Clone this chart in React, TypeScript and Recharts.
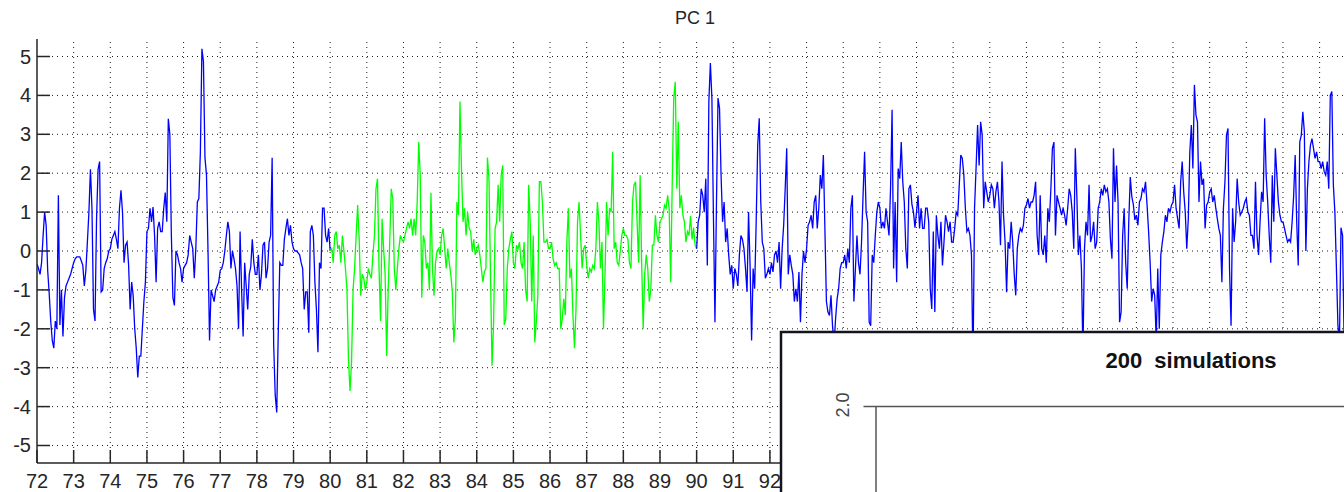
import React from 'react';
import { LineChart, Line, XAxis, YAxis, ReferenceLine } from 'recharts';

// half-monthly PC 1 scores (one row per year)
const perYear = 24;
const startBlueEarly = 72;
const startGreen = 80;
const startBlueLate = 90;

const blueEarly = [
  -0.33, -0.45, -0.6, -0.3, 0.4, 1.0, 0.66, -0.5, -1.1, -1.8, -2.3, -2.5, -1.8, -2.0, 1.43, -1.9, -1.0, -2.2, -1.2, -0.9, -0.8, -0.7, -0.6, -0.45,
  -0.3, -0.2, -0.15, -0.15, -0.15, -0.25, -0.37, -0.9, -0.5, 0.23, 1.0, 2.1, 1.1, -1.5, -1.8, 0.83, 2.1, 2.3, -1.05, -1.0, -0.45, -0.3, -0.2, 0.0,
  0.06, 0.3, 0.4, 0.5, 0.3, 0.06, 1.1, 1.56, 1.0, -0.3, 0.15, 0.23, -0.37, -1.5, -0.8, -1.15, -2.0, -2.5, -3.25, -2.7, -2.7, -2.0, -1.3, -0.8,
  0.5, 0.58, 1.1, 0.75, 1.13, 0.4, -0.8, 0.58, 0.75, 0.5, 0.5, 1.1, 1.5, 0.75, 3.4, 3.0, 0.4, -1.2, -1.4, 0.0, -0.1, -0.3, -0.45, -0.8,
  -0.45, -0.37, -0.3, -0.1, 0.4, 0.23, 0.06, -0.7, 0.06, 1.26, 1.35, 2.55, 5.2, 4.87, 2.4, 1.95, 0.0, -2.3, -1.0, -1.15, -1.3, -1.0, -0.9, -0.8,
  -0.5, -0.45, -0.3, 0.0, 0.4, 0.75, 0.5, -0.45, 0.0, -0.2, -0.45, -0.9, -2.0, 0.5, -1.0, -2.2, -0.3, -0.9, -1.5, -0.6, -0.4, 0.3, -0.3, -0.6,
  -0.6, -0.1, -1.0, -0.6, 0.15, 0.23, -0.7, -0.45, 0.23, 0.4, 2.4, -2.4, -3.7, -4.15, -2.1, -0.3, -0.37, -0.37, 0.3, 0.58, 0.83, 0.4, 0.66, 0.23,
  0.06, 0.0, 0.0, -0.05, -0.1, -0.3, -0.45, -1.5, -1.05, -1.05, -2.1, 0.5, 0.66, 0.4, -0.8, -1.5, -2.6, -0.3, -0.45, 1.1, 1.1, 0.4, 0.23, 0.58,
];

const greenMid = [
  0.0, 0.06, -0.3, 0.4, 0.5, 0.06, 0.15, -0.3, 0.4, 0.0, -0.45, -1.0, -2.8, -3.6, -2.85, -1.0, -0.45, 0.4, 1.18, 0.3, -1.15, -0.6, -0.7, -1.0,
  -0.8, -0.45, -0.6, -0.7, -0.1, 0.4, 1.6, 1.86, -0.45, -1.8, 0.83, 0.06, -0.6, -2.7, -1.0, 0.23, 1.6, 1.35, -0.45, -1.0, -0.45, 0.06, 0.4, 0.3,
  0.23, 0.4, 0.58, 0.75, 0.58, 0.83, 0.4, 0.83, 0.4, 1.26, 2.8, 1.95, -1.2, 0.4, 0.23, -0.45, -0.3, -1.0, 1.5, -0.45, -1.15, -0.3, 0.0, 0.06,
  -0.1, 0.4, 0.58, 0.06, -0.45, 0.06, -0.3, -0.6, -1.05, -2.35, -1.75, 1.26, 0.92, 3.84, 2.1, 0.75, 1.1, 0.4, 1.0, 0.6, 0.5, 0.0, 0.3, -0.1,
  0.06, 0.15, -0.1, -0.45, -0.8, -0.54, -0.45, 2.4, 1.86, -0.6, -2.95, -1.9, 0.58, 0.75, 1.7, 0.75, 1.95, 2.2, -1.9, -1.75, -0.45, 0.06, 0.3, 0.5,
  -0.3, -0.45, 0.15, 0.06, 0.23, -0.3, -0.45, 0.23, -1.0, -1.3, 1.7, 0.75, -1.3, 0.4, -2.35, -1.83, -1.15, 1.78, 1.78, 1.26, 0.23, 0.23, 0.3, 0.06,
  0.06, 0.23, -0.2, -0.37, -0.3, -0.45, -0.45, -2.0, -1.75, -1.23, -1.65, 0.23, 1.1, -0.7, -0.45, -1.65, -2.5, -1.5, 0.75, 1.26, 0.4, -0.45, 0.06, 0.15,
  -0.37, -0.7, -0.45, -0.54, -0.37, -0.45, 0.06, 1.26, 0.75, -0.45, 0.23, -2.0, -0.6, 1.26, 0.4, 1.1, 1.0, 2.55, 0.06, 0.23, -0.3, -0.37, 0.0, 0.4,
  0.58, 0.4, 0.4, 0.3, -0.3, -0.45, 1.26, 1.7, 1.78, 0.75, -0.3, 1.95, -0.3, -2.0, -0.6, -0.1, -0.45, -1.3, -1.0, 0.15, 0.15, 0.92, 0.4, 0.23,
  0.75, 0.83, 0.92, 1.18, 1.1, 1.43, 1.1, -0.8, 1.7, 3.93, 4.35, 1.6, 3.32, 1.1, 1.43, 0.92, 0.75, 0.23, 0.5, 0.4, 0.9, 0.3, 0.6, 0.15,
];

const blueLate = [
  0.06, 0.75, 0.92, 1.6, 1.43, 1.0, 1.86, -0.37, 3.84, 4.83, 3.93, 0.92, -1.83, 1.26, 3.93, 3.67, 1.95, 0.75, 1.26, 0.23, 0.58, -0.1, -0.6, -0.37,
  -0.97, -0.45, -0.6, -0.9, -0.1, 0.4, 0.3, 0.06, -0.45, -1.05, 1.0, -0.37, -2.3, -0.45, -0.97, 0.75, 2.72, 3.41, 1.26, 0.23, 0.06, -0.7, -0.6, -0.45,
  -0.6, -0.3, -0.54, -0.1, 0.0, -0.3, 0.23, -0.97, 0.06, 0.66, 1.6, 2.64, -0.6, -0.1, -0.37, -0.6, -1.3, -0.97, -1.3, -0.54, -1.83, -0.6, 0.0, -0.3,
  0.06, 0.66, 0.75, 0.92, 0.58, 1.26, 1.43, 0.58, 1.1, 1.95, 1.6, 2.47, 0.58, -1.3, -1.57, -1.66, -1.14, -1.92, -2.4, -1.74, -1.23, -0.97, -0.45, -0.3,
  -0.3, -0.1, -0.45, 0.06, -0.3, 1.1, 1.43, -1.3, -0.45, 0.4, -0.3, -0.6, 0.23, 1.43, 2.55, 1.0, 0.75, -1.83, -1.92, -0.1, -0.3, 0.4, 1.0, 1.26,
  1.1, 0.58, 0.75, 0.58, 1.1, 0.75, 0.4, 1.6, 3.63, -0.45, 1.26, -0.8, 2.12, 1.86, 2.8, 1.78, 1.26, 0.06, -0.45, 1.6, 1.7, 1.2, 1.0, 0.6,
  1.0, 1.43, 0.58, 1.1, 0.58, 0.58, 1.1, 1.1, 0.75, -0.97, -1.49, 0.5, -1.57, 0.92, 0.4, 0.06, 0.75, -0.37, 0.23, 0.92, 0.75, 0.5, 0.75, 0.23,
  0.23, 0.58, 1.0, 0.92, 1.7, 2.47, 2.38, 1.95, 1.1, 0.5, 0.58, 0.4, -0.1, -3.0, 1.1, 2.12, 3.24, 2.2, 3.32, 2.98, 1.1, 1.78, 1.52, 1.26,
  1.43, 1.7, 1.6, 1.1, 1.52, 1.78, 1.26, 0.15, 2.3, 0.92, 0.23, -1.06, 0.23, 0.06, 0.75, 0.23, -0.6, -1.14, 0.06, 0.4, 0.58, 0.5, 0.66, 1.1,
  1.18, 1.35, 1.1, 1.26, 1.26, 1.43, 1.78, 0.4, -0.1, 1.43, 0.06, -0.1, 0.4, -0.3, 1.1, 0.75, 1.6, 2.64, 2.8, 0.4, 1.43, 1.26, 1.1, 0.92,
  1.1, 0.92, 0.66, 1.1, 1.6, 1.43, 1.0, 0.06, 2.64, 1.43, -0.1, 0.4, -0.45, -2.6, 0.06, 0.75, 0.4, 1.7, 0.23, 0.4, 0.75, 0.06, 0.23, 1.1,
  1.26, 1.6, 1.43, 1.7, 1.52, 1.6, 1.26, 0.3, -0.2, 2.64, 1.26, 2.2, 1.26, -1.83, -1.57, 0.4, 1.1, -0.3, -0.97, 0.75, 1.9, 1.4, 1.2, 0.8,
  0.92, 0.66, 1.26, 1.35, 1.6, 1.52, 1.78, 1.18, 0.5, -0.3, -1.3, -0.97, -1.14, -2.3, -0.45, -2.0, -0.1, 0.23, 0.5, 0.92, 0.75, 1.1, 1.0, 1.18,
  1.26, 1.7, 1.1, 0.83, 0.58, 1.78, 2.3, 1.52, 1.0, 0.06, 0.83, 2.55, 3.24, 2.12, 4.27, 3.5, 3.32, 1.26, 2.3, 1.7, 1.86, 0.58, 1.18, 1.26,
  1.52, 1.6, 1.26, 1.43, 1.1, 0.83, 0.58, 0.4, -0.8, 1.1, 1.78, 2.98, 3.15, -0.45, -1.92, 1.1, 0.23, 0.75, 1.86, 1.26, 0.92, 1.0, 1.1, 1.26,
  1.35, 1.0, 0.92, 0.4, 0.4, 0.06, 1.78, 0.4, -0.1, 0.75, 1.52, 1.26, 3.41, 1.95, 1.26, 0.4, -0.3, 1.95, 0.75, 2.64, 1.95, 1.26, 0.92, 0.75,
  0.75, 0.58, 0.4, 0.23, 0.3, 0.23, 0.75, 1.43, 2.47, 0.75, -0.37, 2.8, 2.98, 3.58, 3.07, 0.0, 1.6, 2.3, 2.72, 2.89, 2.64, 2.38, 2.55, 2.3,
  2.3, 2.12, 2.3, 2.04, 1.95, 2.3, 1.6, 4.0, 4.1, 1.7, 1.0, -0.45, -1.92, -2.3, 0.6, 0.4, -2.2,
];

const xTicks = [
  72, 73, 74, 75, 76, 77, 78, 79, 80, 81, 82, 83, 84, 85, 86, 87, 88, 89,
  90, 91, 92, 93, 94, 95, 96, 97, 98, 99, 100, 101, 102, 103, 104, 105, 106, 107,
];
const yTicks = [-5, -4, -3, -2, -1, 0, 1, 2, 3, 4, 5];

const chartTitle = 'PC 1';
const insetTitle = '200  simulations';
const insetTick = '2.0';

// each segment gets the next segment's first value so the colours join up
const toRows = (values: number[], start: number, next?: number) => {
  const rows = values.map((v, i) => ({ t: start + i / perYear, v }));
  if (next !== undefined) rows.push({ t: start + values.length / perYear, v: next });
  return rows;
};

const blueEarlyRows = toRows(blueEarly, startBlueEarly, greenMid[0]);
const greenRows = toRows(greenMid, startGreen, blueLate[0]);
const blueLateRows = toRows(blueLate, startBlueLate);

const AXIS = '#262626';
const GRID = '#1a1a1a';
const FONT = '"Liberation Sans", Arial, Helvetica, sans-serif';
const TICK_LEN = 13;

const BottomTick = ({ x, y, payload }: any) => (
  <g>
    <line x1={x} x2={x} y1={y} y2={y - TICK_LEN} stroke={AXIS} strokeWidth={1.5} />
    <text x={x} y={y + 25} textAnchor="middle" fontSize={20} fill={AXIS} fontFamily={FONT}>
      {payload.value}
    </text>
  </g>
);

const TopTick = ({ x, y }: any) => (
  <line x1={x} x2={x} y1={y} y2={y + TICK_LEN} stroke={AXIS} strokeWidth={1.5} />
);

const LeftTick = ({ x, y, payload }: any) => (
  <g>
    <line x1={x} x2={x + TICK_LEN} y1={y} y2={y} stroke={AXIS} strokeWidth={1.5} />
    <text x={x - 6} y={y + 7} textAnchor="end" fontSize={20} fill={AXIS} fontFamily={FONT}>
      {payload.value}
    </text>
  </g>
);

const App: React.FC = () => {
  return (
    <div
      style={{
        position: 'fixed',
        left: 0,
        top: 0,
        width: 1344,
        height: 492,
        overflow: 'hidden',
        background: '#fff',
      }}
    >
      <LineChart width={1346} height={492} margin={{ top: 39, right: 0, bottom: 0, left: 0 }}>
        <XAxis
          dataKey="t"
          type="number"
          domain={[72, 107.72]}
          ticks={xTicks}
          allowDataOverflow
          height={29}
          axisLine={{ stroke: AXIS, strokeWidth: 1.5 }}
          tickLine={false}
          tickSize={0}
          tickMargin={0}
          tick={<BottomTick />}
        />
        <XAxis
          xAxisId="top"
          orientation="top"
          dataKey="t"
          type="number"
          domain={[72, 107.72]}
          ticks={xTicks}
          allowDataOverflow
          height={0}
          axisLine={{ stroke: AXIS, strokeWidth: 1.5 }}
          tickLine={false}
          tickSize={0}
          tickMargin={0}
          tick={<TopTick />}
        />
        <YAxis
          type="number"
          domain={[-5.45, 5.45]}
          ticks={yTicks}
          allowDataOverflow
          width={37}
          axisLine={{ stroke: AXIS, strokeWidth: 1.5 }}
          tickLine={false}
          tickSize={0}
          tickMargin={0}
          tick={<LeftTick />}
        />
        {/* dotted MATLAB-style grid */}
        {xTicks.slice(1).map((t) => (
          <ReferenceLine key={`gx${t}`} x={t} stroke={GRID} strokeDasharray="1 4" strokeWidth={1} />
        ))}
        {yTicks.map((v) => (
          <ReferenceLine key={`gy${v}`} y={v} stroke={GRID} strokeDasharray="1 4" strokeWidth={1} />
        ))}
        <Line
          data={blueEarlyRows}
          dataKey="v"
          type="linear"
          stroke="#0000ff"
          strokeWidth={1.3}
          dot={false}
          isAnimationActive={false}
        />
        <Line
          data={greenRows}
          dataKey="v"
          type="linear"
          stroke="#00ff00"
          strokeWidth={1.3}
          dot={false}
          isAnimationActive={false}
        />
        <Line
          data={blueLateRows}
          dataKey="v"
          type="linear"
          stroke="#0000ff"
          strokeWidth={1.3}
          dot={false}
          isAnimationActive={false}
        />
      </LineChart>

      {/* title and the pasted-over inset panel */}
      <svg
        width={1344}
        height={492}
        style={{ position: 'absolute', left: 0, top: 0, pointerEvents: 'none' }}
      >
        <text x={695} y={24} textAnchor="middle" fontSize={18} fill={AXIS} fontFamily={FONT}>
          {chartTitle}
        </text>
        <rect x={781} y={332} width={700} height={300} fill="#fff" stroke="#14141e" strokeWidth={2.5} />
        <text
          x={1191}
          y={368}
          textAnchor="middle"
          fontSize={22}
          fontWeight="bold"
          fill="#111"
          fontFamily={FONT}
          style={{ whiteSpace: 'pre' }}
        >
          {insetTitle}
        </text>
        <text
          x={849}
          y={405}
          textAnchor="middle"
          fontSize={18}
          fill="#444"
          fontFamily={FONT}
          transform="rotate(-90 849 405)"
        >
          {insetTick}
        </text>
        <line x1={863.5} x2={1344} y1={406.5} y2={406.5} stroke="#555" strokeWidth={1.5} />
        <line x1={876} x2={876} y1={406.5} y2={492} stroke="#555" strokeWidth={1.5} />
      </svg>
    </div>
  );
};

export default App;
